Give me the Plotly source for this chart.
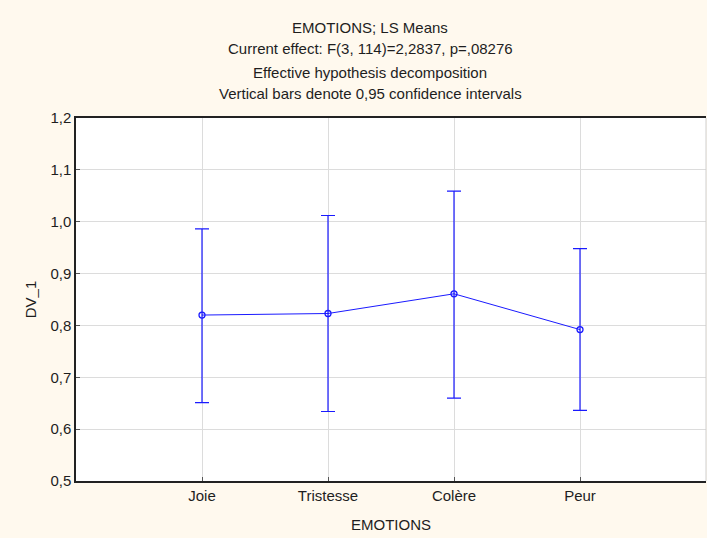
import plotly.graph_objects as go

categories = ["Joie", "Tristesse", "Colère", "Peur"]
means = [0.820, 0.823, 0.861, 0.792]
ci_upper = [0.986, 1.012, 1.059, 0.948]
ci_lower = [0.651, 0.634, 0.660, 0.636]
y_ticks = [0.5, 0.6, 0.7, 0.8, 0.9, 1.0, 1.1, 1.2]
y_tick_labels = ["0,5", "0,6", "0,7", "0,8", "0,9", "1,0", "1,1", "1,2"]
title_lines = [
    "EMOTIONS; LS Means",
    "Current effect: F(3, 114)=2,2837, p=,08276",
    "Effective hypothesis decomposition",
    "Vertical bars denote 0,95 confidence intervals",
]

x_pos = list(range(1, len(categories) + 1))
err_plus = [u - m for u, m in zip(ci_upper, means)]
err_minus = [m - l for m, l in zip(means, ci_lower)]

W, H = 707, 538
L, R, T, B = 76, 1, 118, 57
FONT = "Liberation Sans, Arial, sans-serif"
BLUE = "#1a1aff"
TXT = "#1e1e1e"

fig = go.Figure()
fig.add_trace(go.Scatter(
    x=x_pos, y=means, mode="lines+markers",
    line=dict(color=BLUE, width=1),
    marker=dict(symbol="circle-open", size=6, color=BLUE, line=dict(width=1.3)),
    error_y=dict(type="data", symmetric=False, array=err_plus, arrayminus=err_minus,
                 color=BLUE, thickness=1.2, width=7),
    showlegend=False,
))

plot_h = H - T - B
plot_w = W - L - R
title_cx = (370 - L) / plot_w
title_y_px = [28, 49, 72, 93]
annotations = []
for txt, ypx in zip(title_lines, title_y_px):
    annotations.append(dict(
        text=txt, xref="paper", yref="paper", x=title_cx, y=1 + (T - ypx) / plot_h,
        xanchor="center", yanchor="middle", showarrow=False,
        font=dict(family=FONT, size=15, color=TXT),
    ))

fig.add_shape(type="line", xref="paper", yref="paper", x0=1, x1=1, y0=0, y1=1,
              line=dict(color="#cfcfcf", width=1))

fig.update_layout(
    width=W, height=H,
    margin=dict(l=L, r=R, t=T, b=B),
    paper_bgcolor="#fff9ee",
    plot_bgcolor="#ffffff",
    font=dict(family=FONT, size=15, color=TXT),
    annotations=annotations,
    xaxis=dict(
        range=[0, len(categories) + 1],
        tickvals=x_pos, ticktext=categories,
        showgrid=True, gridcolor="#dcdcdc", gridwidth=1,
        showline=True, linecolor="#222222", linewidth=2, mirror=True,
        ticks="inside", ticklen=4, tickcolor="#555555",
        zeroline=False,
        title=dict(text="EMOTIONS", standoff=16, font=dict(size=15)),
        tickfont=dict(size=15),
    ),
    yaxis=dict(
        range=[0.5, 1.2],
        tickvals=y_ticks, ticktext=y_tick_labels,
        showgrid=True, gridcolor="#dcdcdc", gridwidth=1,
        showline=True, linecolor="#222222", linewidth=1.5,
        ticks="inside", ticklen=4, tickcolor="#555555",
        zeroline=False,
        title=dict(text="DV_1", standoff=10, font=dict(size=15)),
        tickfont=dict(size=15),
    ),
)

fig.write_html("out.html", config={"displayModeBar": False},
               post_script="document.body.style.margin='0';document.body.style.overflow='hidden';")
